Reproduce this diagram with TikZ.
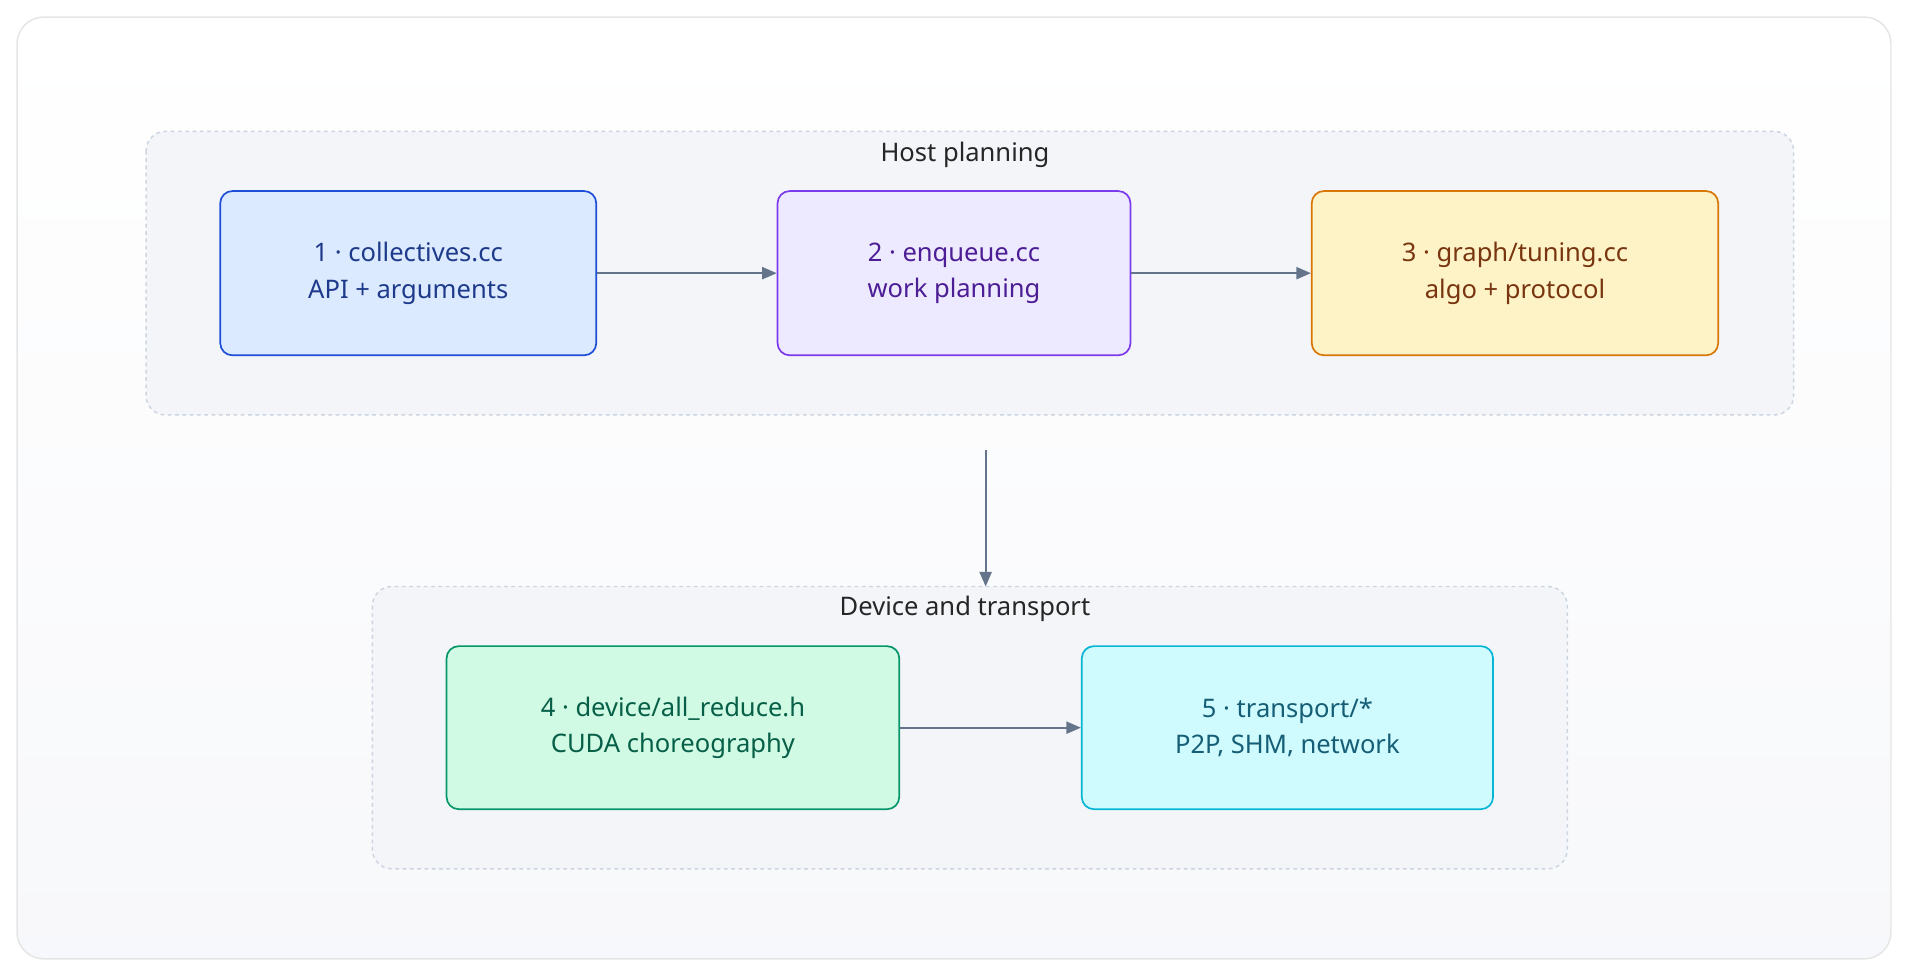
\documentclass[tikz,border=0pt]{standalone}
\usepackage{fontspec}
\setmainfont{Noto Sans}
\usetikzlibrary{arrows.meta}
\definecolor{arr}{HTML}{64748B}
\definecolor{grpb}{HTML}{CBD5E1}
\definecolor{grpf}{HTML}{F4F5F9}
\tikzset{
 grp/.style={draw=grpb,fill=grpf,dashed,line width=1.2pt,rounded corners=16pt},
 boxn/.style={line width=1.4pt,rounded corners=10pt,align=center,font=\fontsize{21}{30}\selectfont},
 ttl/.style={font=\fontsize{21}{26}\selectfont\bfseries,text=black!85},
 conn/.style={draw=arr,line width=1.4pt,-{Triangle[length=12pt,width=10pt]}}
}
\begin{document}
\begin{tikzpicture}[x=1pt,y=-1pt]
\useasboundingbox (0,0) rectangle (1568,802);
\fill[white] (0,0) rectangle (1568,802);
\draw[draw=black!10,line width=1.2pt,rounded corners=22pt,top color=white,bottom color=grpf!70] (14,14) rectangle (1554,788);
\draw[grp] (120,108) rectangle (1474,341);
\node[ttl] (t1) at (793,127) {Host planning};
\draw[grp] (306,482) rectangle (1288,714);
\coordinate (g2) at (810,482);
\node[ttl] (t2) at (793,500) {Device and transport};
\node[boxn,draw={rgb,255:red,29;green,78;blue,216},fill={rgb,255:red,219;green,234;blue,254},text={rgb,255:red,30;green,58;blue,138},minimum width=309pt,minimum height=135pt] (b1) at (335.5,224.5) {1 · collectives.cc\\API + arguments};
\node[boxn,draw={rgb,255:red,124;green,58;blue,237},fill={rgb,255:red,237;green,233;blue,254},text={rgb,255:red,76;green,29;blue,149},minimum width=290pt,minimum height=135pt] (b2) at (784,224.5) {2 · enqueue.cc\\work planning};
\node[boxn,draw={rgb,255:red,217;green,119;blue,6},fill={rgb,255:red,254;green,243;blue,199},text={rgb,255:red,120;green,53;blue,15},minimum width=334pt,minimum height=135pt] (b3) at (1245,224.5) {3 · graph/tuning.cc\\algo + protocol};
\node[boxn,draw={rgb,255:red,5;green,150;blue,105},fill={rgb,255:red,209;green,250;blue,229},text={rgb,255:red,6;green,95;blue,70},minimum width=372pt,minimum height=134pt] (b4) at (553,598) {4 · device/all\_reduce.h\\CUDA choreography};
\node[boxn,draw={rgb,255:red,6;green,182;blue,212},fill={rgb,255:red,207;green,250;blue,254},text={rgb,255:red,21;green,94;blue,117},minimum width=338pt,minimum height=134pt] (b5) at (1058,598) {5 · transport/*\\P2P, SHM, network};
\draw[conn] (b1) -- (b2);
\draw[conn] (b2) -- (b3);
\draw[conn] (b4) -- (b5);
\coordinate (s) at (810,370);
\draw[conn] (s) -- (g2);
\end{tikzpicture}
\end{document}
